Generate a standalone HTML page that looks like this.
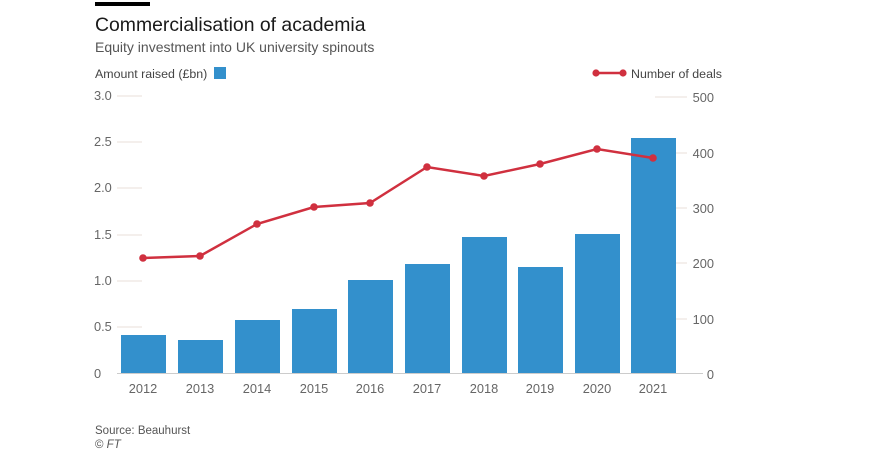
<!DOCTYPE html>
<html><head><meta charset="utf-8"><style>
body{margin:0;background:#fff;width:889px;height:457px;overflow:hidden;font-family:"Liberation Sans",sans-serif;}
svg text{font-family:"Liberation Sans",sans-serif;}
</style></head><body>
<svg width="889" height="457" viewBox="0 0 889 457" xmlns="http://www.w3.org/2000/svg">
<rect x="95" y="2" width="55" height="4" fill="#000"/>
<text x="95" y="31" font-size="19.4" fill="#1a1a1a">Commercialisation of academia</text>
<text x="95" y="52" font-size="14" fill="#555">Equity investment into UK university spinouts</text>
<text x="95" y="78" font-size="12.4" fill="#444">Amount raised (£bn)</text>
<rect x="214" y="67" width="12" height="12" fill="#3390cc"/>
<line x1="596" y1="73" x2="623" y2="73" stroke="#d0303f" stroke-width="2.5"/>
<circle cx="596" cy="73" r="3.6" fill="#d0303f"/><circle cx="623" cy="73" r="3.6" fill="#d0303f"/>
<text x="631" y="78" font-size="12.4" fill="#444">Number of deals</text>
<g stroke="#eadfd8" stroke-width="1">
<line x1="117" y1="96" x2="142" y2="96"/><line x1="117" y1="142" x2="142" y2="142"/><line x1="117" y1="188" x2="142" y2="188"/><line x1="117" y1="235" x2="142" y2="235"/><line x1="117" y1="281" x2="142" y2="281"/><line x1="117" y1="327" x2="142" y2="327"/>
<line x1="655" y1="97" x2="687" y2="97"/><line x1="655" y1="153" x2="687" y2="153"/><line x1="655" y1="208" x2="687" y2="208"/><line x1="655" y1="263" x2="687" y2="263"/><line x1="655" y1="319" x2="687" y2="319"/>
</g>
<g font-size="12.8" fill="#666">
<text x="94" y="100">3.0</text><text x="94" y="146">2.5</text><text x="94" y="192">2.0</text><text x="94" y="239">1.5</text><text x="94" y="285">1.0</text><text x="94" y="331">0.5</text><text x="94" y="378">0</text>
<g text-anchor="end"><text x="714" y="102">500</text><text x="714" y="158">400</text><text x="714" y="213">300</text><text x="714" y="268">200</text><text x="714" y="324">100</text><text x="714" y="379">0</text></g>
</g>
<g fill="#3390cc">
<rect x="121" y="335" width="45" height="38"/>
<rect x="178" y="340" width="45" height="33"/>
<rect x="235" y="320" width="45" height="53"/>
<rect x="292" y="309" width="45" height="64"/>
<rect x="348" y="280" width="45" height="93"/>
<rect x="405" y="264" width="45" height="109"/>
<rect x="462" y="237" width="45" height="136"/>
<rect x="518" y="267" width="45" height="106"/>
<rect x="575" y="234" width="45" height="139"/>
<rect x="631" y="138" width="45" height="235"/>
</g>
<line x1="117" y1="373.5" x2="703" y2="373.5" stroke="#ccc" stroke-width="1"/>
<polyline points="143,258 200,256 257,224 314,207 370,203 427,167 484,176 540,164 597,149 653,158" fill="none" stroke="#d0303f" stroke-width="2.5"/>
<g fill="#d0303f">
<circle cx="143" cy="258" r="3.8"/><circle cx="200" cy="256" r="3.8"/><circle cx="257" cy="224" r="3.8"/><circle cx="314" cy="207" r="3.8"/><circle cx="370" cy="203" r="3.8"/><circle cx="427" cy="167" r="3.8"/><circle cx="484" cy="176" r="3.8"/><circle cx="540" cy="164" r="3.8"/><circle cx="597" cy="149" r="3.8"/><circle cx="653" cy="158" r="3.8"/>
</g>
<g font-size="12.8" fill="#666" text-anchor="middle">
<text x="143" y="393">2012</text><text x="200" y="393">2013</text><text x="257" y="393">2014</text><text x="314" y="393">2015</text><text x="370" y="393">2016</text><text x="427" y="393">2017</text><text x="484" y="393">2018</text><text x="540" y="393">2019</text><text x="597" y="393">2020</text><text x="653" y="393">2021</text>
</g>
<text x="95" y="434" font-size="11.5" fill="#555">Source: Beauhurst</text>
<text x="95" y="448" font-size="11.5" fill="#555">© <tspan font-style="italic">FT</tspan></text>
</svg>
</body></html>
